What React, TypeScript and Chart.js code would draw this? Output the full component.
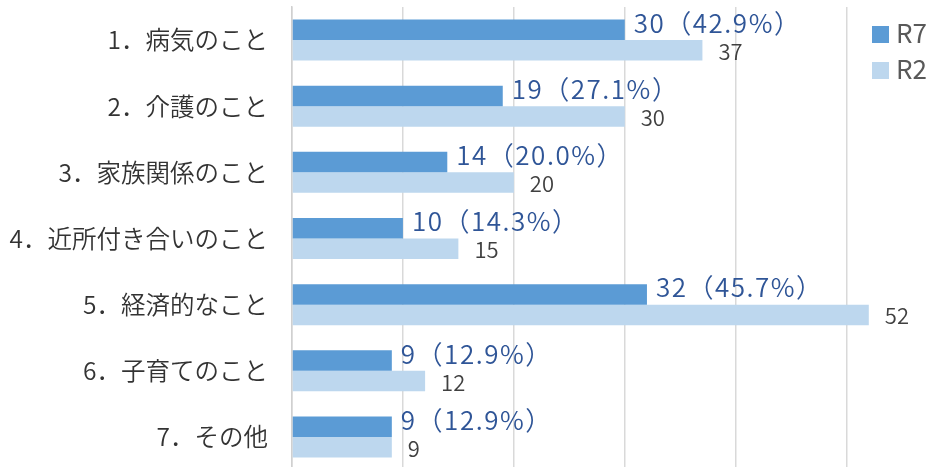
import React, { useEffect, useRef } from "react";
import { Chart, registerables } from "chart.js";

Chart.register(...registerables);

const categories = [
  "1．病気のこと",
  "2．介護のこと",
  "3．家族関係のこと",
  "4．近所付き合いのこと",
  "5．経済的なこと",
  "6．子育てのこと",
  "7．その他",
];
const seriesNames = ["R7", "R2"];
const r7Values = [30, 19, 14, 10, 32, 9, 9];
const r7Percent = ["42.9", "27.1", "20.0", "14.3", "45.7", "12.9", "12.9"];
const r2Values = [37, 30, 20, 15, 52, 12, 9];
const gridTicks = [0, 10, 20, 30, 40, 50];

const FONT = "'Noto Sans CJK JP', 'Noto Sans', sans-serif";

const labelPlugin = {
  id: "barLabels",
  afterDatasetsDraw(chart: any) {
    const ctx = chart.ctx;
    ctx.save();
    chart.data.datasets.forEach((ds: any, di: number) => {
      const meta = chart.getDatasetMeta(di);
      meta.data.forEach((bar: any, i: number) => {
        const v = ds.data[i];
        ctx.textAlign = "left";
        ctx.textBaseline = "alphabetic";
        if (di === 0) {
          ctx.font = `350 26px ${FONT}`;
          ctx.fillStyle = "#2f5597";
          (ctx as any).letterSpacing = "1.5px";
          ctx.fillText(`${v}（${r7Percent[i]}%）`, bar.x + 9, bar.y + 3);
        } else {
          ctx.font = `350 22px ${FONT}`;
          ctx.fillStyle = "#404040";
          (ctx as any).letterSpacing = "0px";
          ctx.fillText(`${v}`, bar.x + 16, bar.y + 9.5);
        }
      });
    });
    ctx.restore();
  },
};

const legendPlugin = {
  id: "customLegend",
  afterDraw(chart: any) {
    const ctx = chart.ctx;
    ctx.save();
    chart.data.datasets.forEach((ds: any, di: number) => {
      const y = 26 + di * 36;
      ctx.fillStyle = ds.backgroundColor;
      ctx.fillRect(872, y, 17, 17);
      ctx.font = `26px ${FONT}`;
      ctx.fillStyle = "#595959";
      ctx.textAlign = "left";
      ctx.textBaseline = "alphabetic";
      ctx.fillText(ds.label, 896, y + 17);
    });
    ctx.restore();
  },
};

export default function App() {
  const ref = useRef<HTMLCanvasElement | null>(null);
  useEffect(() => {
    if (!ref.current) return;
    const chart = new Chart(ref.current, {
      type: "bar",
      data: {
        labels: categories,
        datasets: [
          {
            label: seriesNames[0],
            data: r7Values,
            backgroundColor: "#5b9bd5",
            barPercentage: 1,
            categoryPercentage: 0.62,
          },
          {
            label: seriesNames[1],
            data: r2Values,
            backgroundColor: "#bdd7ee",
            barPercentage: 1,
            categoryPercentage: 0.62,
          },
        ],
      },
      options: {
        indexAxis: "y",
        responsive: false,
        animation: false,
        layout: { padding: { top: 7, right: 0, bottom: 0, left: 0 } },
        plugins: {
          legend: { display: false },
          tooltip: { enabled: false },
        },
        scales: {
          x: {
            min: 0,
            max: 59.5,
            afterBuildTicks: (scale: any) => {
              scale.ticks = gridTicks.map((v) => ({ value: v }));
            },
            afterFit: (scale: any) => {
              scale.height = 0;
              scale.paddingLeft = 0;
              scale.paddingRight = 0;
            },
            ticks: { display: false },
            grid: {
              color: "#d9d9d9",
              lineWidth: 1.5,
              drawTicks: false,
            },
            border: { display: false },
          },
          y: {
            afterFit: (scale: any) => {
              scale.width = 292;
              scale.paddingTop = 0;
              scale.paddingBottom = 0;
            },
            ticks: {
              padding: 24,
              color: "#333333",
              font: { family: FONT, size: 24.5, weight: "350" },
            },
            grid: { display: false, drawTicks: false },
            border: { display: true, color: "#d0d0d0", width: 1.5 },
          },
        },
      },
      plugins: [labelPlugin, legendPlugin],
    });
    return () => chart.destroy();
  }, []);
  return (
    <div
      style={{
        position: "fixed",
        left: 0,
        top: 0,
        width: 952,
        height: 467,
        overflow: "hidden",
        background: "#ffffff",
      }}
    >
      <canvas ref={ref} width={952} height={470} style={{ display: "block" }} />
    </div>
  );
}
